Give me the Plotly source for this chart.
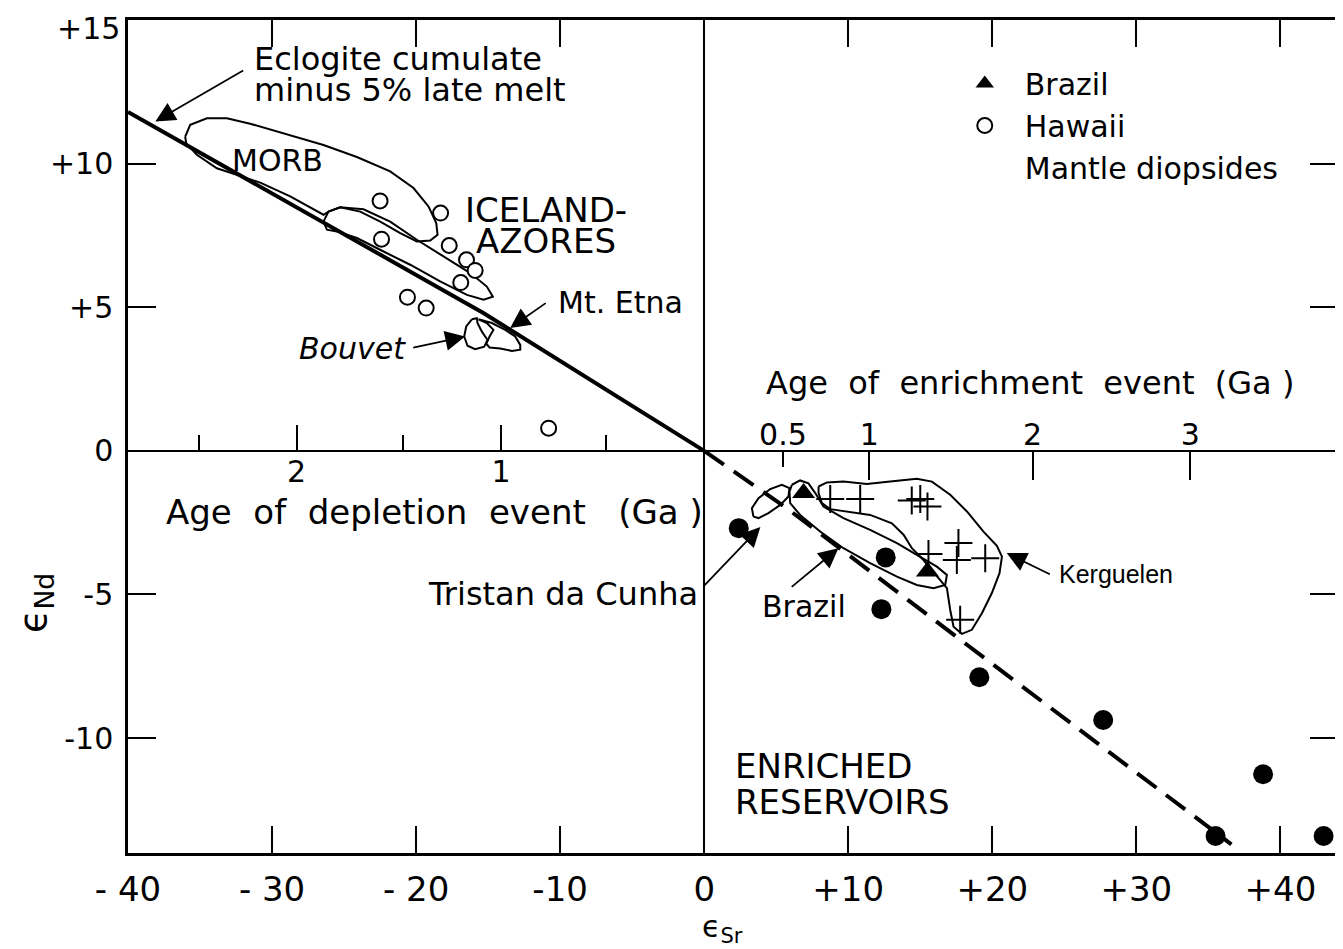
import plotly.graph_objects as go

# ---------------- data ----------------
# Mantle diopsides: Hawaii (open circles) and Brazil (filled triangles)
hawaii_esr = [-22.5, -18.3, -22.4, -17.7, -16.5, -15.9, -16.9, -20.6, -19.3, -10.8]
hawaii_end = [8.70, 8.28, 7.37, 7.15, 6.65, 6.28, 5.86, 5.35, 4.97, 0.79]

brazil_esr = [6.9, 15.5]
brazil_end = [-1.47, -4.20]

# filled circles (enriched basalts)
filled_esr = [2.4, 12.6, 12.3, 19.1, 27.7, 38.8, 35.5, 43.0]
filled_end = [-2.69, -3.71, -5.51, -7.88, -9.37, -11.26, -13.41, -13.41]

# Kerguelen (plus signs)
kerg_esr = [8.75, 10.83, 14.41, 15.0, 15.5, 15.57, 17.65, 17.54, 19.51, 17.77]
kerg_end = [-1.68, -1.68, -1.73, -1.68, -1.94, -3.59, -3.21, -3.80, -3.74, -5.88]

# Eclogite cumulate minus 5% late melt (solid) and its extension (dashed)
eclogite_esr = [-40.0, -15.3, 0.0]
eclogite_end = [11.8, 4.79, 0.0]
extension_esr = [0.0, 5.74, 18.24, 36.6]
extension_end = [0.0, -2.0, -6.75, -13.7]

# Field outlines
morb_esr = [-36.03, -35.68, -34.52, -33.14, -31.52, -29.20, -26.43, -24.11, -21.80, -20.18,
            -19.14, -18.60, -18.51, -19.02, -19.95, -21.10, -22.49, -23.88, -25.27, -26.08,
            -26.43, -28.74, -30.82, -31.98, -33.83, -35.22, -35.96, -36.03]
morb_end = [10.94, 11.35, 11.58, 11.58, 11.39, 11.06, 10.65, 10.23, 9.73, 9.15,
            8.51, 7.93, 7.52, 7.32, 7.29, 7.58, 7.98, 8.33, 8.48, 8.33,
            8.22, 8.86, 9.34, 9.53, 9.84, 10.31, 10.71, 10.94]

iceland_esr = [-26.43, -26.08, -25.27, -23.65, -21.80, -19.95, -18.10, -16.24, -15.09, -14.67,
               -15.32, -16.47, -18.33, -20.41, -22.26, -24.11, -25.50, -26.19, -26.43]
iceland_end = [7.98, 8.33, 8.48, 8.41, 7.98, 7.35, 6.77, 6.19, 5.72, 5.37,
               5.26, 5.43, 5.90, 6.48, 6.94, 7.41, 7.64, 7.70, 7.98]

bouvet_esr = [-16.13, -16.52, -16.66, -16.43, -15.90, -15.27, -15.04, -15.43, -15.74, -15.78, -16.13]
bouvet_end = [4.58, 4.33, 3.98, 3.66, 3.54, 3.63, 3.86, 4.15, 4.45, 4.62, 4.58]

etna_esr = [-15.67, -14.74, -13.81, -13.12, -12.77, -12.77, -13.35, -14.16, -14.90, -15.13,
            -14.90, -14.63, -15.09, -15.67]
etna_end = [4.58, 4.45, 4.21, 3.98, 3.69, 3.52, 3.48, 3.56, 3.60, 3.73,
            3.98, 4.21, 4.45, 4.58]

tristan_esr = [3.42, 3.31, 3.77, 4.58, 5.39, 5.92, 5.85, 5.28, 4.46, 3.77, 3.42]
tristan_end = [-2.29, -2.00, -1.65, -1.33, -1.18, -1.30, -1.59, -1.88, -2.17, -2.34, -2.29]

brazil_field_esr = [6.09, 6.66, 7.24, 7.71, 8.28, 9.67, 11.52, 13.38, 14.76, 16.15, 16.85,
                    16.73, 15.92, 14.76, 13.38, 11.52, 9.67, 8.05, 6.66, 5.97, 5.92, 6.09]
brazil_field_end = [-1.18, -1.03, -1.13, -1.47, -1.94, -2.34, -2.75, -3.21, -3.62, -4.03, -4.32,
                    -4.67, -4.78, -4.67, -4.38, -3.91, -3.39, -2.81, -2.23, -1.82, -1.42, -1.18]

kerg_field_esr = [7.94, 8.52, 9.67, 11.29, 12.91, 14.76, 15.81, 17.08, 18.24, 19.39, 20.32,
                  20.67, 20.50, 19.97, 19.28, 18.58, 17.89, 17.31, 17.08, 16.85,
                  15.22, 14.42, 13.84, 13.03, 11.52, 9.91, 8.75, 8.17, 7.94, 7.94]
kerg_field_end = [-1.24, -1.10, -1.07, -1.15, -1.07, -0.97, -1.07, -1.53, -2.11, -2.81, -3.31,
                  -3.68, -4.26, -4.95, -5.65, -6.23, -6.37, -6.12, -5.54, -4.78,
                  -3.80, -3.39, -2.92, -2.52, -2.23, -2.11, -2.03, -1.82, -1.47, -1.24]

# Main axis ticks (the top label "+15" is placed just below the frame, as in the original)
x_tick_vals = [-40, -30, -20, -10, 0, 10, 20, 30, 40]
x_tick_text = ["- 40", "- 30", "- 20", "-10", "0", "+10", "+20", "+30", "+40"]
y_tick_vals = [15, 10, 5, 0, -5, -10]
y_tick_text = ["", "+10", "+5", "0", "-5", "-10"]
y_top_label = "+15"
y_top_value = 15

# Model-age scales drawn along eps_Nd = 0
depletion_major_esr = [-14.1, -28.3]
depletion_major_text = ["1", "2"]
depletion_minor_esr = [-6.8, -20.9, -35.1]
enrichment_major_esr = [11.46, 22.8, 33.75]
enrichment_major_text = ["1", "2", "3"]
enrichment_half_esr = [5.47]
enrichment_half_text = ["0.5"]

X_RANGE = [-40, 44]
Y_RANGE = [-14, 15]

FONT = "DejaVu Sans"
HELV = "Liberation Sans"

fig = go.Figure()

def outline(xs, ys):
    fig.add_trace(go.Scatter(x=xs, y=ys, mode="lines", line=dict(color="black", width=2),
                             showlegend=False, hoverinfo="skip"))

for xs, ys in [(morb_esr, morb_end), (iceland_esr, iceland_end), (bouvet_esr, bouvet_end),
               (etna_esr, etna_end), (tristan_esr, tristan_end),
               (brazil_field_esr, brazil_field_end), (kerg_field_esr, kerg_field_end)]:
    outline(xs, ys)

fig.add_trace(go.Scatter(x=eclogite_esr, y=eclogite_end, mode="lines",
                         line=dict(color="black", width=4), showlegend=False))
fig.add_trace(go.Scatter(x=extension_esr, y=extension_end, mode="lines",
                         line=dict(color="black", width=4, dash="24px,12px"), showlegend=False))

fig.add_trace(go.Scatter(x=filled_esr, y=filled_end, mode="markers",
                         marker=dict(symbol="circle", size=20, color="black"), showlegend=False))
fig.add_trace(go.Scatter(x=kerg_esr, y=kerg_end, mode="markers",
                         marker=dict(symbol="cross-thin-open", size=20, color="black",
                                     line=dict(width=2, color="black")), showlegend=False))
fig.add_trace(go.Scatter(x=brazil_esr, y=brazil_end, mode="markers", name="Brazil",
                         marker=dict(symbol="triangle-up", size=20, color="black")))
fig.add_trace(go.Scatter(x=hawaii_esr, y=hawaii_end, mode="markers", name="Hawaii",
                         marker=dict(symbol="circle", size=15, color="white",
                                     line=dict(width=2, color="black"))))
fig.add_trace(go.Scatter(x=[None], y=[None], mode="markers", name="Mantle diopsides",
                         marker=dict(size=1, color="rgba(0,0,0,0)")))

# dummy traces so the age axes are drawn
for ax in ["x2", "x3", "x4"]:
    fig.add_trace(go.Scatter(x=[None], y=[None], xaxis=ax, yaxis="y", showlegend=False))

zero_pos = (0 - Y_RANGE[0]) / (Y_RANGE[1] - Y_RANGE[0])

common_age = dict(overlaying="x", range=X_RANGE, anchor="free", position=zero_pos,
                  showline=False, showgrid=False, zeroline=False, tickwidth=2,
                  tickcolor="black", tickfont=dict(family=FONT, size=30, color="black"),
                  tickmode="array", automargin=False)

fig.update_layout(
    width=1335, height=941,
    margin=dict(l=120, r=5, t=12, b=96, autoexpand=False),
    paper_bgcolor="white", plot_bgcolor="white",
    xaxis=dict(range=X_RANGE, tickmode="array", tickvals=x_tick_vals, ticktext=x_tick_text,
               ticks="inside", ticklen=27, tickwidth=2, tickcolor="black",
               showline=True, linewidth=2.5, linecolor="black", mirror="ticks",
               zeroline=True, zerolinewidth=2, zerolinecolor="black", showgrid=False,
               tickfont=dict(family=FONT, size=34, color="black"), ticklabelstandoff=4,
               ticklabeloverflow="allow", automargin=False),
    yaxis=dict(range=Y_RANGE, tickmode="array", tickvals=y_tick_vals, ticktext=y_tick_text,
               ticks="inside", ticklen=28, tickwidth=2, tickcolor="black",
               showline=True, linewidth=2.5, linecolor="black", mirror="ticks",
               zeroline=True, zerolinewidth=2, zerolinecolor="black", showgrid=False,
               tickfont=dict(family=FONT, size=30, color="black"), ticklabelstandoff=6,
               ticklabeloverflow="allow", automargin=False),
    xaxis2=dict(side="bottom", ticks="inside", ticklen=26, tickvals=depletion_major_esr,
                ticktext=depletion_major_text,
                minor=dict(tickvals=depletion_minor_esr, ticks="inside", ticklen=16,
                           tickwidth=2, tickcolor="black"), **common_age),
    xaxis3=dict(side="top", ticks="inside", ticklen=28, tickvals=enrichment_major_esr,
                ticktext=enrichment_major_text, **common_age),
    xaxis4=dict(side="top", ticks="inside", ticklen=15, tickvals=enrichment_half_esr,
                ticktext=enrichment_half_text, **common_age),
    showlegend=True,
    legend=dict(x=0.675, y=0.955, xanchor="left", yanchor="top", itemwidth=70,
                font=dict(family=FONT, size=30, color="black"), bgcolor="rgba(0,0,0,0)",
                traceorder="normal", itemclick=False),
)

ann = []
def label(x, y, text, size=30, family=FONT, xanchor="center", italic=False):
    ann.append(dict(x=x, y=y, xref="x", yref="y", text=text, showarrow=False,
                    xanchor=xanchor, yanchor="middle",
                    font=dict(family=family, size=size, color="black",
                              style="italic" if italic else "normal")))

def arrow(x_head, y_head, x_tail, y_tail):
    ann.append(dict(x=x_head, y=y_head, ax=x_tail, ay=y_tail, xref="x", yref="y",
                    axref="x", ayref="y", text="", showarrow=True, arrowhead=2,
                    arrowsize=2.2, arrowwidth=1.8, arrowcolor="black", standoff=0,
                    startstandoff=0))

# "+15" tick label, nudged just below the top frame so it is not clipped
ann.append(dict(x=0, y=y_top_value, xref="paper", yref="y", text=y_top_label,
                showarrow=False, xanchor="right", yanchor="middle", xshift=-6, yshift=-8,
                font=dict(family=FONT, size=30, color="black")))

label(-31.4, 13.65, "Eclogite cumulate", size=32, xanchor="left")
label(-31.4, 12.55, "minus 5% late melt", size=32, xanchor="left")
arrow(-38.1, 11.47, -31.9, 13.27)
label(-29.6, 10.10, "MORB", size=30)
label(-11.0, 8.39, "ICELAND-", size=34)
label(-11.0, 7.32, "AZORES", size=34)
label(-5.8, 5.15, "Mt. Etna", size=30)
arrow(-13.47, 4.28, -10.9, 5.18)
label(-24.4, 3.55, "Bouvet", size=30, italic=True)
arrow(-16.6, 3.98, -20.3, 3.58)
label(-9.8, -5.0, "Tristan da Cunha", size=32)
arrow(3.9, -2.65, -0.1, -4.74)
label(6.9, -5.43, "Brazil", size=30)
arrow(9.32, -3.39, 5.97, -4.78)
label(28.6, -4.28, "Kerguelen", size=25, family=HELV)
arrow(21.0, -3.56, 24.1, -4.32)
label(2.0, -10.97, "ENRICHED", size=34, xanchor="left")
label(2.0, -12.22, "RESERVOIRS", size=34, xanchor="left")
label(-18.7, -2.12, "Age  of  depletion  event   (Ga )", size=34)
label(22.6, 2.37, "Age  of  enrichment  event  (Ga )", size=32)

# axis titles
ann.append(dict(x=-0.077, y=0.30, xref="paper", yref="paper", text="ϵ<sub>Nd</sub>",
                showarrow=False, textangle=-90, xanchor="center", yanchor="middle",
                font=dict(family=FONT, size=38, color="black")))
ann.append(dict(x=0.491, y=-0.091, xref="paper", yref="paper", text="ϵ<sub>Sr</sub>",
                showarrow=False, xanchor="center", yanchor="middle",
                font=dict(family=FONT, size=30, color="black")))

fig.update_layout(annotations=ann)
fig.write_html("out.html")
